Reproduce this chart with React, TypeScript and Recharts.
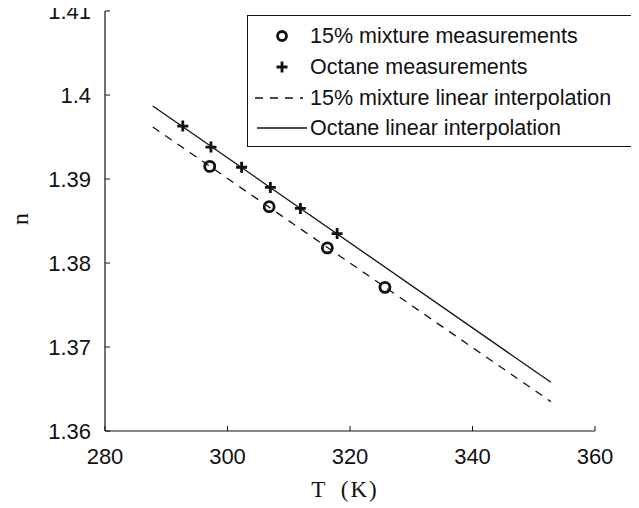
import { ScatterChart, Scatter, XAxis, YAxis } from "recharts"

// measured refractive index vs temperature
const mixtureT = [297.1, 306.8, 316.3, 325.7]
const mixtureN = [1.3915, 1.3867, 1.3818, 1.3771]
const octaneT = [292.7, 297.3, 302.3, 307.0, 311.9, 317.9]
const octaneN = [1.3963, 1.3938, 1.3914, 1.389, 1.3865, 1.3835]

// end points of the two linear fits
const fitT = [287.8, 352.8]
const mixtureFitN = [1.3962, 1.3635]
const octaneFitN = [1.3987, 1.3658]

const xTicks = [280, 300, 320, 340, 360]
const yTicks = [1.36, 1.37, 1.38, 1.39, 1.4, 1.41]

const legendLabels = [
  "15% mixture measurements",
  "Octane measurements",
  "15% mixture linear interpolation",
  "Octane linear interpolation",
]

const toPoints = (xs: number[], ys: number[]) => xs.map((x, i) => ({ x, y: ys[i] }))

const mixtureData = toPoints(mixtureT, mixtureN)
const octaneData = toPoints(octaneT, octaneN)
const mixtureFit = toPoints(fitT, mixtureFitN)
const octaneFit = toPoints(fitT, octaneFitN)

const INK = "#111"
const SANS = "'Liberation Sans', Arial, Helvetica, sans-serif"
const SERIF = "'Liberation Serif', 'Times New Roman', serif"

function XTick({ x, y, payload }: any) {
  return (
    <g>
      <line x1={x} y1={y} x2={x} y2={y - 5} stroke={INK} strokeWidth={1} />
      <text x={x} y={y + 25} textAnchor="middle" dominantBaseline="central" fontFamily={SANS} fontSize={22} fill={INK}>
        {payload.value}
      </text>
    </g>
  )
}

function YTick({ x, y, payload }: any) {
  return (
    <g>
      <line x1={x} y1={y} x2={x + 5} y2={y} stroke={INK} strokeWidth={1} />
      <text x={x - 14} y={y} textAnchor="end" dominantBaseline="central" fontFamily={SANS} fontSize={22} fill={INK}>
        {String(Number(payload.value.toFixed(2)))}
      </text>
    </g>
  )
}

const xLabel = (props: any) => {
  const vb = props.viewBox
  return (
    <text x={vb.x + vb.width / 2 - 5} y={vb.y + 58} textAnchor="middle" dominantBaseline="central" fontFamily={SERIF} fontSize={23} fill={INK} style={{ wordSpacing: 6, letterSpacing: 2 }}>
      T (K)
    </text>
  )
}

const yLabel = (props: any) => {
  const vb = props.viewBox
  const cy = vb.y + vb.height / 2 - 2
  return (
    <text x={20} y={cy} transform={`rotate(-90 20 ${cy})`} textAnchor="middle" dominantBaseline="central" fontFamily={SERIF} fontSize={24} fill={INK}>
      n
    </text>
  )
}

const CircleMark = ({ cx, cy }: any) => (
  <circle cx={cx} cy={cy} r={5} fill="none" stroke={INK} strokeWidth={2.8} />
)

const PlusMark = ({ cx, cy }: any) => (
  <path d={`M${cx - 5.5},${cy}H${cx + 5.5}M${cx},${cy - 5.5}V${cy + 5.5}`} stroke={INK} strokeWidth={2.8} />
)

const NoMark = () => <g />

function LegendBox() {
  const rows = [21, 52, 83, 113]
  return (
    <svg width={389} height={132} style={{ position: "absolute", left: 247, top: 15 }}>
      <rect x={0.5} y={0.5} width={388} height={131} fill="#fff" stroke={INK} strokeWidth={1} />
      <circle cx={35} cy={rows[0]} r={4.5} fill="none" stroke={INK} strokeWidth={2.8} />
      <path d={`M${29.5},${rows[1]}H${40.5}M35,${rows[1] - 5.5}V${rows[1] + 5.5}`} stroke={INK} strokeWidth={2.8} />
      <line x1={8} y1={rows[2]} x2={56} y2={rows[2]} stroke={INK} strokeWidth={1.3} strokeDasharray="8 7" />
      <line x1={10} y1={rows[3]} x2={60} y2={rows[3]} stroke={INK} strokeWidth={1.3} />
      {legendLabels.map((label, i) => (
        <text key={label} x={63} y={rows[i]} dominantBaseline="central" fontFamily={SANS} fontSize={21.5} fill={INK}>
          {label}
        </text>
      ))}
    </svg>
  )
}

export default function App() {
  // pull the chart over the default body margin so it lines up with the page
  return (
    <div style={{ position: "relative", width: 639, height: 508, margin: "-8px 0 0 -8px" }}>
      <ScatterChart width={639} height={508} margin={{ top: 11, right: 44, left: 0, bottom: 0 }}>
        <XAxis
          type="number"
          dataKey="x"
          domain={[280, 360]}
          ticks={xTicks}
          interval={0}
          height={77}
          tickSize={0}
          tickMargin={0}
          tickLine={false}
          axisLine={{ stroke: INK, strokeWidth: 1.2 }}
          tick={<XTick />}
          label={xLabel}
        />
        <YAxis
          type="number"
          dataKey="y"
          domain={[1.36, 1.41]}
          ticks={yTicks}
          interval={0}
          width={105}
          tickSize={0}
          tickMargin={0}
          tickLine={false}
          axisLine={{ stroke: INK, strokeWidth: 1.2 }}
          tick={<YTick />}
          label={yLabel}
        />
        <Scatter data={mixtureFit} line={{ stroke: INK, strokeWidth: 1.3, strokeDasharray: "8 7" }} shape={<NoMark />} isAnimationActive={false} />
        <Scatter data={octaneFit} line={{ stroke: INK, strokeWidth: 1.3 }} shape={<NoMark />} isAnimationActive={false} />
        <Scatter data={mixtureData} shape={<CircleMark />} isAnimationActive={false} />
        <Scatter data={octaneData} shape={<PlusMark />} isAnimationActive={false} />
      </ScatterChart>
      <LegendBox />
    </div>
  )
}
